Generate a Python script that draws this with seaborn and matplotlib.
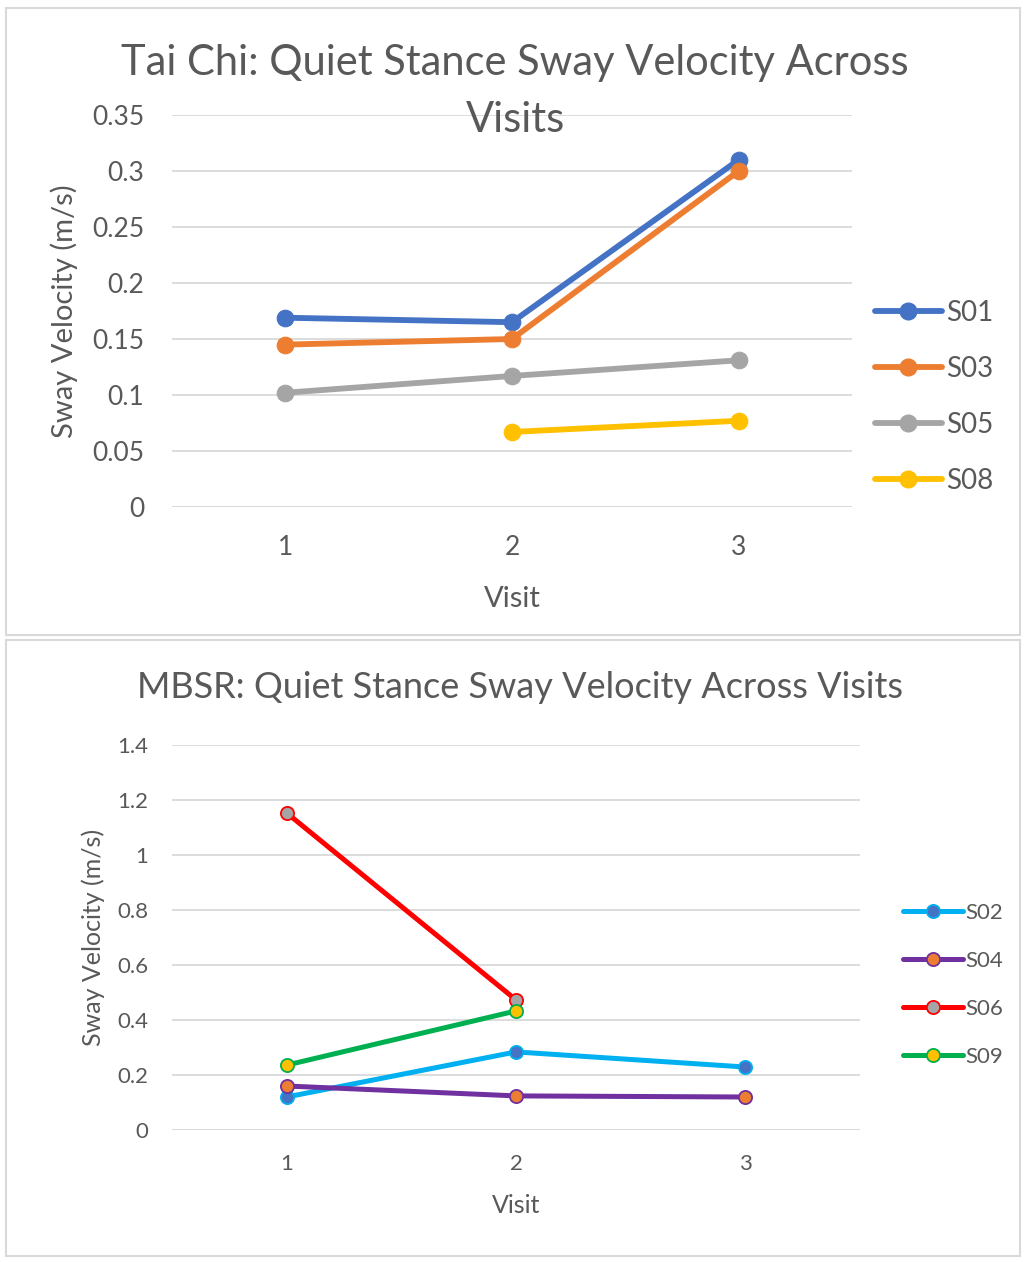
import numpy as np
import pandas as pd
import seaborn as sns
import matplotlib.pyplot as plt
from matplotlib.lines import Line2D
from matplotlib.patches import Rectangle

# Data
visits = [1, 2, 3]

tai_labels = ["S01", "S03", "S05", "S08"]
s01 = [0.169, 0.165, 0.310]
s03 = [0.145, 0.150, 0.300]
s05 = [0.102, 0.117, 0.131]
s08 = [np.nan, 0.067, 0.077]

mbsr_labels = ["S02", "S04", "S06", "S09"]
s02 = [0.12, 0.284, 0.229]
s04 = [0.16, 0.124, 0.12]
s06 = [1.153, 0.473, np.nan]
s09 = [0.236, 0.433, np.nan]

tai_ticks = [0, 0.05, 0.1, 0.15, 0.2, 0.25, 0.3, 0.35]
tai_ticklabels = ["0", "0.05", "0.1", "0.15", "0.2", "0.25", "0.3", "0.35"]
mbsr_ticks = [0, 0.2, 0.4, 0.6, 0.8, 1.0, 1.2, 1.4]
mbsr_ticklabels = ["0", "0.2", "0.4", "0.6", "0.8", "1", "1.2", "1.4"]

sns.set_theme(style="white")
plt.rcParams['font.family'] = ['Lato', 'DejaVu Sans']
txt = "#595959"
grid = "#d9d9d9"

W, H = 1029, 1262
fig = plt.figure(figsize=(W / 100, H / 100), dpi=100)

def box(x0, y0, x1, y1):
    # pixel coords (top-left origin) -> figure fraction
    return [x0 / W, 1 - y1 / H, (x1 - x0) / W, (y1 - y0) / H]

# chart borders
for y0, y1 in [(8, 635), (640, 1256)]:
    fig.patches.append(Rectangle((6 / W, 1 - y1 / H), (1020 - 6) / W, (y1 - y0) / H,
                                 transform=fig.transFigure, fill=False,
                                 edgecolor="#d9d9d9", linewidth=1.5))

# ---------------- Tai Chi ----------------
ax1 = fig.add_axes(box(172, 115, 852, 507))
tai_cols = ["#4472C4", "#ED7D31", "#A5A5A5", "#FFC000"]
for lab, vals, c in zip(tai_labels, [s01, s03, s05, s08], tai_cols):
    df = pd.DataFrame({"Visit": visits, "v": vals})
    sns.lineplot(data=df, x="Visit", y="v", ax=ax1, color=c, linewidth=4.2,
                 marker="o", markersize=12, markeredgecolor=c, label=lab)
ax1.set_xlim(0.5, 3.5)
ax1.set_ylim(0, 0.35)
ax1.set_xticks(visits)
ax1.set_yticks(tai_ticks)
ax1.set_yticklabels(tai_ticklabels)
ax1.tick_params(axis="both", colors=txt, labelsize=19, length=0)
ax1.tick_params(axis="x", pad=20)
ax1.tick_params(axis="y", pad=20)
ax1.grid(axis="y", color=grid, linewidth=1.3)
for s in ax1.spines.values():
    s.set_visible(False)
ax1.axhline(0, color=grid, linewidth=1.3)
ax1.set_xlabel("Visit", color=txt, fontsize=21, labelpad=19)
ax1.set_ylabel("Sway Velocity (m/s)", color=txt, fontsize=21, labelpad=10)
ax1.legend_.remove()
# title wraps in the original; two lines placed separately
fig.text(515 / W, 1 - 63 / H, "Tai Chi: Quiet Stance Sway Velocity Across",
         ha="center", va="center", fontsize=30, color=txt)
fig.text(515 / W, 1 - 120 / H, "Visits",
         ha="center", va="center", fontsize=30, color=txt)
h1 = [Line2D([], [], color=c, linewidth=4.2, marker="o", markersize=12) for c in tai_cols]
fig.legend(h1, tai_labels, loc="center left", bbox_to_anchor=(850 / W, 1 - 397 / H),
           frameon=False, fontsize=20, labelcolor=txt, handlelength=2.4,
           handletextpad=0.15, labelspacing=1.075)

# ---------------- MBSR ----------------
ax2 = fig.add_axes(box(172, 745, 860, 1130))
mbsr_lines = ["#00B0F0", "#7030A0", "#FF0000", "#00B050"]
mbsr_faces = ["#4472C4", "#ED7D31", "#A5A5A5", "#FFC000"]
for lab, vals, c, f in zip(mbsr_labels, [s02, s04, s06, s09], mbsr_lines, mbsr_faces):
    df = pd.DataFrame({"Visit": visits, "v": vals})
    sns.lineplot(data=df, x="Visit", y="v", ax=ax2, color=c, linewidth=3.6,
                 marker="o", markersize=9.5, markerfacecolor=f, markeredgecolor=c,
                 markeredgewidth=1.3, label=lab)
ax2.set_xlim(0.5, 3.5)
ax2.set_ylim(0, 1.4)
ax2.set_xticks(visits)
ax2.set_yticks(mbsr_ticks)
ax2.set_yticklabels(mbsr_ticklabels)
ax2.tick_params(axis="both", colors=txt, labelsize=16, length=0)
ax2.tick_params(axis="x", pad=17)
ax2.tick_params(axis="y", pad=17)
ax2.grid(axis="y", color=grid, linewidth=1.3)
for s in ax2.spines.values():
    s.set_visible(False)
ax2.axhline(0, color=grid, linewidth=1.3)
ax2.set_xlabel("Visit", color=txt, fontsize=18, labelpad=15)
ax2.set_ylabel("Sway Velocity (m/s)", color=txt, fontsize=18, labelpad=9)
ax2.legend_.remove()
fig.text(520 / W, 1 - 687 / H, "MBSR: Quiet Stance Sway Velocity Across Visits",
         ha="center", va="center", fontsize=26, color=txt)
h2 = [Line2D([], [], color=c, linewidth=3.6, marker="o", markersize=9.5,
             markerfacecolor=f, markeredgecolor=c, markeredgewidth=1.3)
      for c, f in zip(mbsr_lines, mbsr_faces)]
fig.legend(h2, mbsr_labels, loc="center left", bbox_to_anchor=(883 / W, 1 - 985 / H),
           frameon=False, fontsize=16, labelcolor=txt, handlelength=2.7,
           handletextpad=0.1, labelspacing=1.26)

fig.savefig("out.png", dpi=100)
